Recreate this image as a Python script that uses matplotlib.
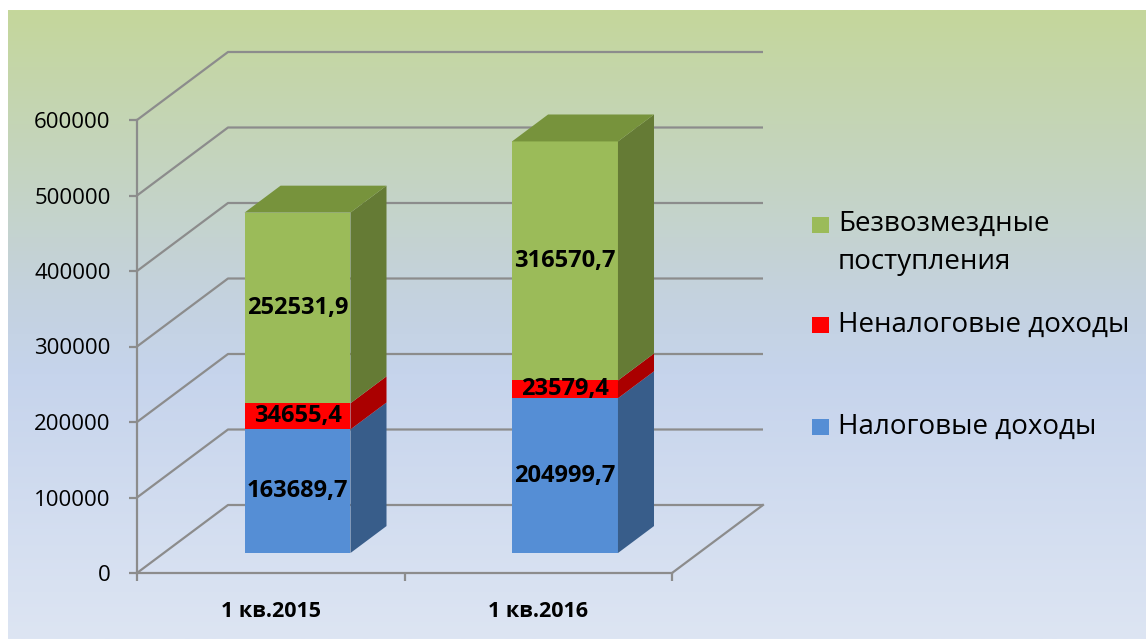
import numpy as np
import matplotlib.pyplot as plt
from matplotlib.patches import Polygon, Rectangle

plt.rcParams['font.family'] = ['Open Sans', 'DejaVu Sans']

# data
categories = ['1 кв.2015', '1 кв.2016']
series_names = ['Налоговые доходы', 'Неналоговые доходы', 'Безвозмездные\nпоступления']
tax = [163689.7, 204999.7]
nontax = [34655.4, 23579.4]
grants = [252531.9, 316570.7]
labels = [['163689,7', '204999,7'], ['34655,4', '23579,4'], ['252531,9', '316570,7']]

front_colors = ['#558ED5', '#FF0000', '#9BBB59']
side_colors = ['#385D8A', '#AA0000', '#657B35']
top_colors = ['#4A76AE', '#D00000', '#77933C']

W, H = 1146, 639
fig = plt.figure(figsize=(W / 100, H / 100), dpi=100)

# gradient background
bg = fig.add_axes([8 / W, 0, (W - 8) / W, (H - 10) / H], zorder=-10)
stops = np.array([[0.0, 197, 215, 155],
                  [0.45, 196, 210, 222],
                  [0.58, 198, 212, 236],
                  [1.0, 221, 229, 243]])
yy = np.linspace(0, 1, 256)
grad = np.stack([np.interp(yy, stops[:, 0], stops[:, k]) for k in (1, 2, 3)], axis=1) / 255
bg.imshow(grad[:, None, :], aspect='auto', extent=[0, 1, 1, 0])
bg.axis('off')

# front plane of the 3d box: x 137..672 px, y 573..120 px
x0, x1, ytop, ybot = 137, 672, 120, 573
ax = fig.add_axes([x0 / W, 1 - ybot / H, (x1 - x0) / W, (ybot - ytop) / H])
ax.patch.set_alpha(0)
ax.set_xlim(0, 2)
ax.set_ylim(0, 600000)

px_x = (x1 - x0) / 2
px_y = (ybot - ytop) / 600000
DX = 91 / px_x
DY = 68 / px_y
grid_c = '#8C8C8C'

# back wall gridlines
for v in range(0, 600001, 100000):
    ax.plot([0, DX, 2 + DX], [v, v + DY, v + DY], color=grid_c, lw=1.6,
            clip_on=False, zorder=1, solid_capstyle='butt')
ax.plot([2, 2 + DX], [0, DY], color=grid_c, lw=1.6, clip_on=False, zorder=1)

# 3d bars
f0, f1 = 0.294, 0.69
hw = 0.198
stack = [tax, nontax, grants]
for i in range(len(categories)):
    c = i + 0.5
    ox0, oy0 = f0 * DX, f0 * DY
    ox1, oy1 = f1 * DX, f1 * DY
    bottom = 0
    for s, vals in enumerate(stack):
        top = bottom + vals[i]
        front = Rectangle((c - hw + ox0, bottom + oy0), 2 * hw, vals[i],
                          facecolor=front_colors[s], edgecolor='none', zorder=3, clip_on=False)
        ax.add_patch(front)
        side = Polygon([(c + hw + ox0, bottom + oy0), (c + hw + ox1, bottom + oy1),
                        (c + hw + ox1, top + oy1), (c + hw + ox0, top + oy0)],
                       closed=True, facecolor=side_colors[s], edgecolor='none', zorder=3, clip_on=False)
        ax.add_patch(side)
        if s == len(stack) - 1:
            lid = Polygon([(c - hw + ox0, top + oy0), (c + hw + ox0, top + oy0),
                           (c + hw + ox1, top + oy1), (c - hw + ox1, top + oy1)],
                          closed=True, facecolor=top_colors[s], edgecolor='none', zorder=3, clip_on=False)
            ax.add_patch(lid)
        ax.text(c + ox0, (bottom + top) / 2 + oy0, labels[s][i], ha='center', va='center',
                fontsize=17, fontweight='bold', color='black', zorder=5)
        bottom = top

# axes styling
for sp in ['top', 'right']:
    ax.spines[sp].set_visible(False)
for sp in ['left', 'bottom']:
    ax.spines[sp].set_color(grid_c)
    ax.spines[sp].set_linewidth(1.6)
ax.set_yticks(range(0, 600001, 100000))
ax.set_yticklabels([str(v) for v in range(0, 600001, 100000)])
ax.tick_params(axis='y', length=6, width=1.6, color=grid_c, pad=13, labelsize=16)
ax.set_xticks([0, 1, 2])
ax.set_xticklabels(['', '', ''])
ax.set_xticks([0.5, 1.5], minor=True)
ax.set_xticklabels(categories, minor=True, fontsize=15.5, fontweight='bold')
ax.tick_params(axis='x', which='major', length=6, width=1.6, color=grid_c)
ax.tick_params(axis='x', which='minor', length=0, pad=20)

# legend
leg_items = [(2, 225, 243, series_names[2]), (1, 325, 325, series_names[1]), (0, 427, 427, series_names[0])]
for s, sq_y, txt_y, name in leg_items:
    fig.patches.append(Rectangle((812 / W, 1 - (sq_y + 8) / H), 17 / W, 16 / H,
                                 facecolor=front_colors[s], edgecolor='none',
                                 transform=fig.transFigure, figure=fig))
    fig.text(838 / W, 1 - txt_y / H, name, ha='left', va='center', fontsize=20,
             linespacing=1.45, color='black')

fig.savefig('out.png', dpi=100)
